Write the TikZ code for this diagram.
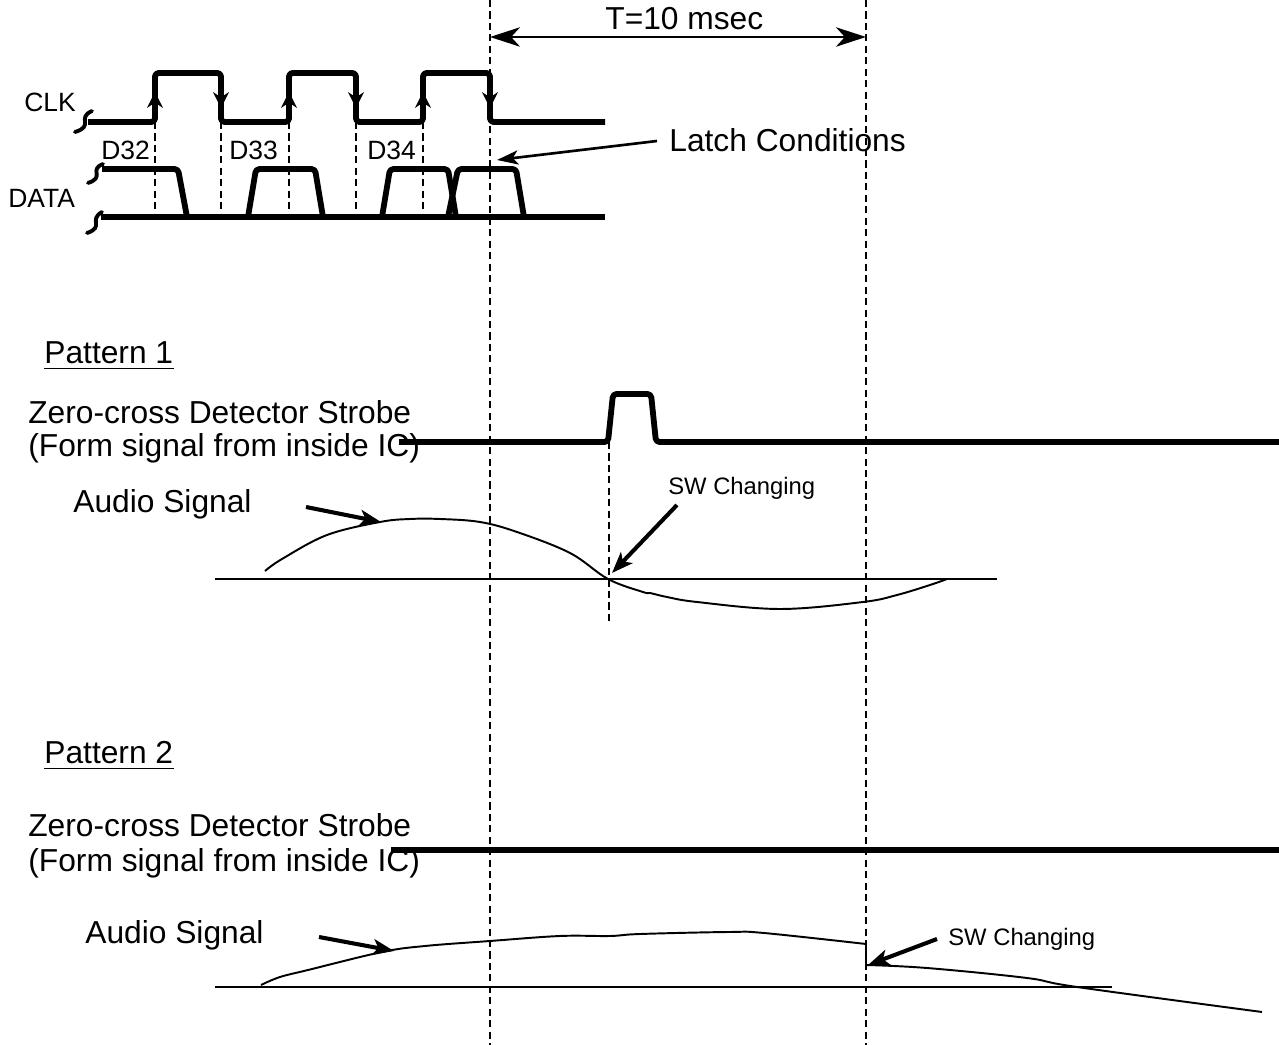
\documentclass[tikz,border=0pt]{standalone}
\usepackage{fontspec}
\setmainfont{Liberation Sans}
\usetikzlibrary{arrows.meta}
\begin{document}
\begin{tikzpicture}[x=0.567pt,y=-0.567pt,
  sig/.style={line width=3.3pt, line join=round, rounded corners=2pt},
  thinl/.style={line width=1.1pt, line join=round},
  guide/.style={line width=0.6pt, dash pattern=on 4pt off 2.5pt},
  big/.style={font=\fontsize{18}{20}\selectfont, inner sep=0pt},
  small/.style={font=\fontsize{15}{17}\selectfont, inner sep=0pt},
  swtext/.style={font=\fontsize{13.5}{15}\selectfont, inner sep=0pt},
  edgearr/.style={-{Stealth[length=9pt,width=9pt,inset=3pt]}, line width=0.9pt},
  ptr/.style={line width=2.3pt, -{Stealth[length=12pt,width=9pt,inset=3pt]}},
  lptr/.style={line width=1.5pt, -{Stealth[length=12pt,width=8pt,inset=3pt]}},
  brk/.style={line width=2.2pt, line cap=round},
]
\path[use as bounding box] (0,0) rectangle (1279,1045);

% ---------- guide lines ----------
\draw[guide] (490,0) -- (490,1045);
\draw[guide] (866,0) -- (866,1045);
\foreach \gx in {155,221,289,356,423} \draw[guide] (\gx,122) -- (\gx,217);
\draw[guide] (609,442) -- (609,622);

% ---------- period arrow ----------
\coordinate (tl) at (490,37);
\coordinate (tr) at (866,37);
\draw[line width=1.2pt, {Stealth[length=17pt,width=11pt,inset=5pt]}-{Stealth[length=17pt,width=11pt,inset=5pt]}] (tl) -- (tr);
\node[big, anchor=base west] (tlabel) at (605,30) {T=10 msec};

% ---------- CLK ----------
\node[small, anchor=base west] (clk) at (24,112) {CLK};
\draw[brk] (75,132) .. controls (95,126) and (76,118) .. (92,111);
\draw[sig] (88,122) -- (155,122) -- (155,73) -- (221,73) -- (221,122) -- (289,122) -- (289,73) -- (356,73) -- (356,122) -- (423,122) -- (423,73) -- (490,73) -- (490,122) -- (605,122);
\foreach \ex in {155,289,423} \draw[edgearr] (\ex,112) -- (\ex,92);
\foreach \ex in {221,356,490} \draw[edgearr] (\ex,88) -- (\ex,108);

% ---------- DATA ----------
\node[small, anchor=base west] (data) at (8,208) {DATA};
\node[small, anchor=base west] (d32) at (101,160) {D32};
\node[small, anchor=base west] (d33) at (229,160) {D33};
\node[small, anchor=base west] (d34) at (367,160) {D34};
\draw[brk] (88,183) .. controls (106,177) and (88,170) .. (103,164);
\draw[brk] (87,233) .. controls (105,227) and (88,220) .. (102,212);
\draw[sig] (102,169) -- (178,169) -- (187,217);
\draw[sig] (101,217) -- (605,217);
\draw[sig] (248,217) -- (256,169) -- (315,169) -- (323,217);
\draw[sig] (382,217) -- (390,169) -- (448,169) -- (456,217);
\draw[sig] (448,217) -- (458,169) -- (516,169) -- (524,217);

% ---------- latch conditions ----------
\node[big, anchor=base west] (latch) at (669,152) {Latch Conditions};
\coordinate (latchfrom) at (657,141);
\coordinate (latchtip) at (497,160);
\draw[lptr] (latchfrom) -- (latchtip);

% ---------- Pattern 1 ----------
\node[big, anchor=base west] (p1) at (44,364) {Pattern 1};
\draw[line width=0.7pt] ([yshift=-2.4pt]p1.base west) -- ([yshift=-2.4pt]p1.base east);
\node[big, anchor=base west] (z1a) at (28,424) {Zero-cross Detector Strobe};
\node[big, anchor=base west] (z1b) at (28,457) {(Form signal from inside IC)};
\node[big, anchor=base west] (a1) at (73,513) {Audio Signal};
\draw[sig, line cap=butt] (399,442) -- (608,442) -- (613,394) -- (651,394) -- (656,442) -- (1279,442);
\draw[thinl] (215,579) -- (997,579);
\draw[thinl] plot[smooth, tension=0.6] coordinates {(265,571) (282,559) (327,535) (380,522) (410,519) (440,519) (480,522) (517,532) (570,553) (608,579) (643,592) (650,593) (667,597) (697,602) (780,609) (863,602) (897,595) (930,585) (947,579)};
\coordinate (a1from) at (306,507);
\coordinate (a1tip) at (381,522);
\draw[ptr] (a1from) -- (a1tip);
\node[swtext, anchor=base west] (sw1) at (668,495) {SW Changing};
\coordinate (sw1from) at (677,505);
\coordinate (sw1tip) at (612,573);
\draw[ptr] (sw1from) -- (sw1tip);

% ---------- Pattern 2 ----------
\node[big, anchor=base west] (p2) at (44,764) {Pattern 2};
\draw[line width=0.7pt] ([yshift=-2.4pt]p2.base west) -- ([yshift=-2.4pt]p2.base east);
\node[big, anchor=base west] (z2a) at (28,837) {Zero-cross Detector Strobe};
\node[big, anchor=base west] (z2b) at (28,872) {(Form signal from inside IC)};
\node[big, anchor=base west] (a2) at (85,943) {Audio Signal};
\draw[sig, line cap=butt] (391,850) -- (1279,850);
\draw[thinl] (215,987) -- (1112,987);
\draw[thinl] plot[smooth, tension=0.6] coordinates {(261,985) (280,977) (308,970) (382,952) (425,946) (490,941) (560,936) (610,936) (640,934) (729,932) (764,933) (866,944)} -- (866,965)
  plot[smooth, tension=0.6] coordinates {(866,965) (927,968) (1027,978) (1077,987) (1262,1012)};
\coordinate (a2from) at (319,937);
\coordinate (a2tip) at (394,951);
\draw[ptr] (a2from) -- (a2tip);
\node[swtext, anchor=base west] (sw2) at (948,945) {SW Changing};
\coordinate (sw2from) at (937,939);
\coordinate (sw2tip) at (868,965);
\draw[ptr] (sw2from) -- (sw2tip);
\end{tikzpicture}
\end{document}
